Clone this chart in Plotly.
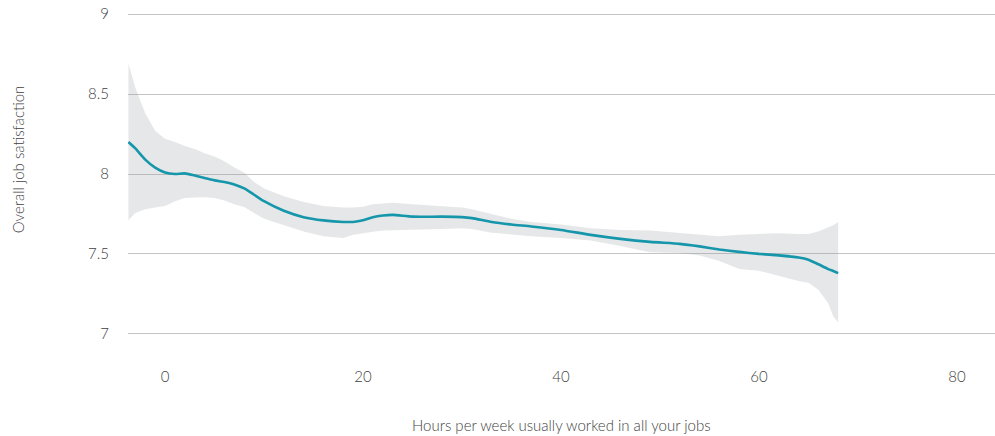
import plotly.graph_objects as go

# Hours worked per week and fitted overall job satisfaction with its confidence band
hours = [-3.7, -3, -2, -1, 0, 1, 2, 3, 4, 5, 6, 7, 8, 9, 10, 12, 14, 16, 18, 19,
         20, 21, 22, 23, 25, 28, 30, 31, 33, 35, 37, 40, 43, 46, 49, 52, 54, 56,
         58, 60, 62, 64, 65, 66, 67, 67.5, 68]
satisfaction = [8.20, 8.16, 8.09, 8.04, 8.01, 8.00, 8.004, 7.99, 7.975, 7.96, 7.95,
                7.935, 7.91, 7.87, 7.83, 7.77, 7.73, 7.71, 7.70, 7.70, 7.71, 7.73,
                7.74, 7.744, 7.733, 7.733, 7.73, 7.724, 7.70, 7.684, 7.672, 7.65,
                7.619, 7.594, 7.575, 7.5625, 7.547, 7.528, 7.5125, 7.50, 7.491,
                7.478, 7.464, 7.435, 7.405, 7.393, 7.38]
upper = [8.69, 8.54, 8.38, 8.27, 8.22, 8.20, 8.175, 8.156, 8.13, 8.11, 8.08, 8.04,
         8.01, 7.95, 7.91, 7.86, 7.825, 7.80, 7.79, 7.79, 7.795, 7.81, 7.816, 7.82,
         7.81, 7.80, 7.79, 7.78, 7.75, 7.72, 7.70, 7.684, 7.66, 7.65, 7.646, 7.63,
         7.616, 7.61, 7.62, 7.627, 7.63, 7.625, 7.625, 7.64, 7.665, 7.68, 7.70]
lower = [7.71, 7.756, 7.78, 7.79, 7.80, 7.83, 7.85, 7.853, 7.855, 7.85, 7.834, 7.81,
         7.794, 7.756, 7.72, 7.68, 7.64, 7.61, 7.60, 7.62, 7.628, 7.638, 7.647, 7.65,
         7.652, 7.656, 7.66, 7.656, 7.633, 7.622, 7.61, 7.60, 7.584, 7.55, 7.51,
         7.506, 7.49, 7.456, 7.406, 7.394, 7.36, 7.33, 7.32, 7.275, 7.19, 7.11, 7.07]

x_ticks = [0, 20, 40, 60, 80]
y_ticks = [7, 7.5, 8, 8.5, 9]
y_tick_text = ["7", "7.5", "8", "8.5", "9"]

FONT = "Lato"
TEXT = "#3f3f3f"
SIZE = 15

fig = go.Figure()
fig.add_trace(go.Scatter(
    x=hours + hours[::-1], y=upper + lower[::-1],
    fill="toself", fillcolor="rgba(150,154,160,0.24)",
    line=dict(width=0), mode="lines", hoverinfo="skip", showlegend=False,
))
fig.add_trace(go.Scatter(
    x=hours, y=satisfaction, mode="lines",
    line=dict(color="#1596ab", width=2.6, shape="spline", smoothing=0.6),
    showlegend=False,
))

fig.update_layout(
    width=995, height=436,
    margin=dict(l=128, r=0, t=11, b=99),
    paper_bgcolor="white", plot_bgcolor="white",
    font=dict(family=FONT, size=SIZE, color=TEXT, weight=300),
    xaxis=dict(
        range=[-3.74, 83.84], tickvals=x_ticks, showgrid=False, zeroline=False,
        showline=False, ticks="", ticklabelstandoff=29,
        tickfont=dict(family=FONT, size=SIZE, color=TEXT, weight=300),
    ),
    yaxis=dict(
        range=[6.98, 9.02], tickvals=y_ticks, ticktext=y_tick_text,
        showgrid=True, gridcolor="#c4c4c4", gridwidth=1, zeroline=False,
        showline=False, ticks="", ticklabelstandoff=18,
        tickfont=dict(family=FONT, size=SIZE, color=TEXT, weight=300),
    ),
    annotations=[
        dict(text="Hours per week usually worked in all your jobs",
             xref="paper", yref="paper", x=0.5, y=-0.27, yanchor="middle",
             showarrow=False, font=dict(family=FONT, size=SIZE, color=TEXT, weight=300)),
        dict(text="Overall job satisfaction", textangle=-90,
             xref="paper", yref="paper", x=-0.127, xanchor="center",
             y=0.545, yanchor="middle",
             showarrow=False, font=dict(family=FONT, size=SIZE, color=TEXT, weight=300)),
    ],
)

fig.write_html("out.html")
